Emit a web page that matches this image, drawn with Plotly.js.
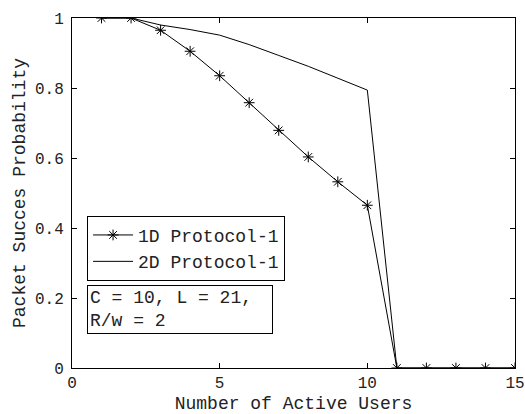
<!DOCTYPE html>
<html>
<head>
<meta charset="utf-8">
<script src="https://cdn.plot.ly/plotly-3.0.1.min.js"></script>
<style>
  body { margin: 0; background: #fff; }
  #chart { width: 525px; height: 414px; }
</style>
</head>
<body>
<div id="chart"></div>
<script>
// number of active users
const users = [1, 2, 3, 4, 5, 6, 7, 8, 9, 10, 11, 12, 13, 14, 15];
// packet success probability
const proto1D = [1, 1, 0.965, 0.905, 0.835, 0.758, 0.679, 0.603, 0.532, 0.465, 0, 0, 0, 0, 0];
const proto2D = [1, 1, 0.98, 0.967, 0.951, 0.924, 0.893, 0.862, 0.828, 0.794, 0, 0, 0, 0, 0];
const seriesNames = ['1D Protocol-1', '2D Protocol-1'];
const noteText = 'C = 10, L = 21,<br>R/w = 2';

const font = 'Liberation Mono, Courier New, monospace';

const traces = [
    {
        x: users,
        y: proto1D,
        name: seriesNames[0],
        type: 'scatter',
        mode: 'lines+markers',
        line: {color: '#000', width: 1},
        marker: {symbol: 'asterisk-open', size: 9, color: '#000', line: {color: '#000', width: 1}}
    },
    {
        x: users,
        y: proto2D,
        name: seriesNames[1],
        type: 'scatter',
        mode: 'lines',
        line: {color: '#000', width: 1}
    }
];

const axisBase = {
    showline: true,
    linecolor: '#000',
    linewidth: 1,
    mirror: 'allticks',
    ticks: 'inside',
    ticklen: 5,
    tickcolor: '#000',
    showgrid: false,
    zeroline: false,
    tickfont: {family: font, size: 16, color: '#222'}
};

const layout = {
    width: 525,
    height: 414,
    margin: {l: 72, r: 10, t: 18, b: 46},
    paper_bgcolor: '#fff',
    plot_bgcolor: '#fff',
    font: {family: font, color: '#222'},
    xaxis: Object.assign({}, axisBase, {
        range: [0, 15],
        dtick: 5,
        title: {text: 'Number of Active Users', font: {family: font, size: 18, color: '#222'}, standoff: 4}
    }),
    yaxis: Object.assign({}, axisBase, {
        range: [0, 1],
        dtick: 0.2,
        ticklabelstandoff: 4,
        title: {text: 'Packet Succes Probability', font: {family: font, size: 18, color: '#222'}, standoff: 4}
    }),
    showlegend: true,
    legend: {
        x: 0.034,
        y: 0.435,
        xanchor: 'left',
        yanchor: 'top',
        bgcolor: '#fff',
        bordercolor: '#000',
        borderwidth: 1,
        font: {family: font, size: 18, color: '#222'},
        itemwidth: 40,
        tracegroupgap: 0
    },
    annotations: [
        {
            xref: 'paper',
            yref: 'paper',
            x: 0.034,
            y: 0.238,
            xanchor: 'left',
            yanchor: 'top',
            text: noteText,
            align: 'left',
            showarrow: false,
            bgcolor: '#fff',
            bordercolor: '#000',
            borderwidth: 1,
            borderpad: 2,
            width: 180,
            font: {family: font, size: 18, color: '#222'}
        }
    ]
};

Plotly.newPlot('chart', traces, layout, {displayModeBar: false, staticPlot: true});
</script>
</body>
</html>
